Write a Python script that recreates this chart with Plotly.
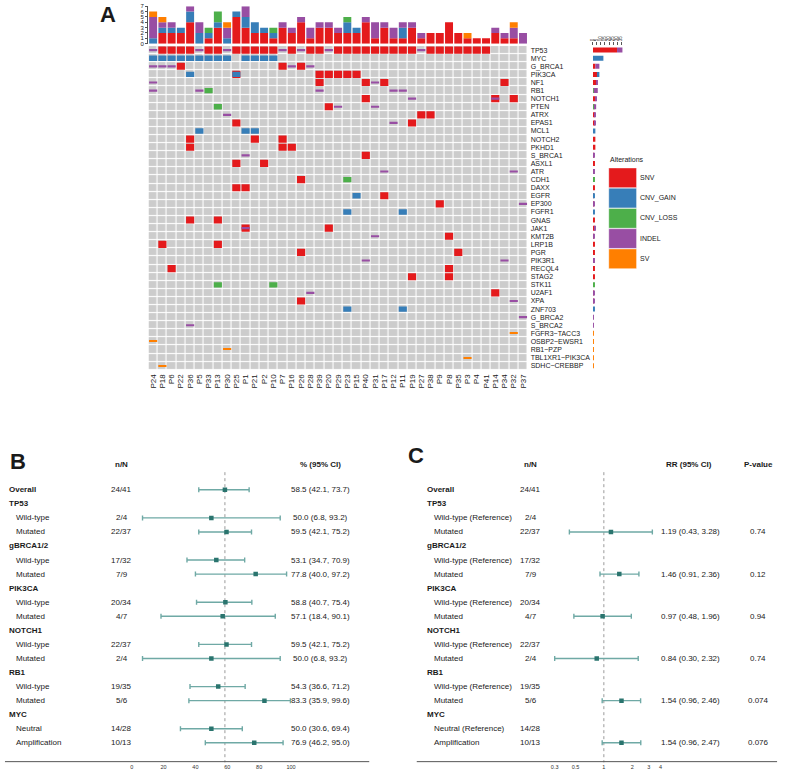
import plotly.graph_objects as go

W, H = 789, 784
def px(x): return x / W
def py(y): return 1 - y / H

FONT = "Liberation Sans"

samples = ["P24","P18","P6","P22","P36","P5","P33","P13","P30","P25","P1","P21","P2","P10","P7",
           "P16","P26","P28","P39","P20","P29","P23","P15","P40","P31","P17","P12","P11","P19","P27",
           "P38","P9","P8","P35","P3","P4","P41","P14","P34","P32","P37"]
genes = ["TP53","MYC","G_BRCA1","PIK3CA","NF1","RB1","NOTCH1","PTEN","ATRX","EPAS1","MCL1","NOTCH2",
         "PKHD1","S_BRCA1","ASXL1","ATR","CDH1","DAXX","EGFR","EP300","FGFR1","GNAS","JAK1","KMT2B",
         "LRP1B","PGR","PIK3R1","RECQL4","STAG2","STK11","U2AF1","XPA","ZNF703","G_BRCA2","S_BRCA2",
         "FGFR3~TACC3","OSBP2~EWSR1","RB1~PZP","TBL1XR1~PIK3CA","SDHC~CREBBP"]
alteration_types = ["SNV", "CNV_GAIN", "CNV_LOSS", "INDEL", "SV"]
alteration_colors = ["#E41A1C", "#377EB8", "#4DAF4A", "#984EA3", "#FF7F00"]

snv_calls = {
    "TP53": ["P18","P6","P22","P36","P33","P13","P25","P1","P21","P2","P10","P16","P28","P39","P29",
             "P23","P15","P40","P31","P17","P12","P11","P19","P38","P9","P8","P35","P3","P4","P41"],
    "G_BRCA1": ["P22","P7","P26"], "PIK3CA": ["P25","P39","P20","P29","P23","P15"],
    "NF1": ["P39","P40","P17","P34"], "NOTCH1": ["P40","P14","P32"], "PTEN": ["P20"],
    "ATRX": ["P27","P38"], "EPAS1": ["P25","P19"], "NOTCH2": ["P36","P21","P7"],
    "PKHD1": ["P36","P7","P16"], "S_BRCA1": ["P40"], "ASXL1": ["P25","P2"], "CDH1": ["P26"],
    "DAXX": ["P25","P1"], "EGFR": ["P17"], "EP300": ["P9"], "GNAS": ["P36","P13"],
    "JAK1": ["P1","P20"], "KMT2B": ["P8"], "LRP1B": ["P18","P13"], "PGR": ["P26","P35"],
    "RECQL4": ["P6","P8"], "STAG2": ["P19","P8"], "U2AF1": ["P14"], "XPA": ["P26"],
}
cnv_gain_calls = {
    "MYC": ["P24","P18","P6","P22","P36","P5","P33","P13","P30","P1","P21","P2","P10"],
    "PIK3CA": ["P36","P25"], "MCL1": ["P5","P1","P21"], "EGFR": ["P15"],
    "FGFR1": ["P23","P11"], "ZNF703": ["P23","P11"],
}
cnv_loss_calls = {"RB1": ["P33"], "PTEN": ["P13"], "CDH1": ["P23"], "STK11": ["P13","P10"]}
indel_calls = {
    "TP53": ["P24","P5","P30","P7","P26","P20","P27"], "G_BRCA1": ["P24","P18","P6","P16","P28"],
    "NF1": ["P24","P31"], "RB1": ["P24","P5","P39","P12","P11"], "NOTCH1": ["P19","P14"],
    "PTEN": ["P29","P31"], "ATRX": ["P30"], "EPAS1": ["P12"], "S_BRCA1": ["P1"],
    "ATR": ["P17","P32"], "EP300": ["P37"], "JAK1": ["P1"], "KMT2B": ["P31"],
    "PIK3R1": ["P40","P34"], "U2AF1": ["P28"], "XPA": ["P32"], "G_BRCA2": ["P37"], "S_BRCA2": ["P36"],
}
sv_calls = {"FGFR3~TACC3": ["P32"], "OSBP2~EWSR1": ["P24"], "RB1~PZP": ["P30"],
            "TBL1XR1~PIK3CA": ["P3"], "SDHC~CREBBP": ["P18"]}
calls_by_type = [snv_calls, cnv_gain_calls, cnv_loss_calls, indel_calls, sv_calls]
cell_heights = [0.88, 0.66, 0.66, 0.27, 0.13]

# forest plot B
fb_labels = ["Overall","TP53","Wild-type","Mutated","gBRCA1/2","Wild-type","Mutated","PIK3CA","Wild-type",
             "Mutated","NOTCH1","Wild-type","Mutated","RB1","Wild-type","Mutated","MYC","Neutral","Amplification"]
fb_header = [1,1,0,0,1,0,0,1,0,0,1,0,0,1,0,0,1,0,0]
fb_nN = ["24/41","","2/4","22/37","","17/32","7/9","","20/34","4/7","","22/37","2/4","","19/35","5/6","","14/28","10/13"]
fb_est = [58.5,None,50.0,59.5,None,53.1,77.8,None,58.8,57.1,None,59.5,50.0,None,54.3,83.3,None,50.0,76.9]
fb_lo = [42.1,None,6.8,42.1,None,34.7,40.0,None,40.7,18.4,None,42.1,6.8,None,36.6,35.9,None,30.6,46.2]
fb_hi = [73.7,None,93.2,75.2,None,70.9,97.2,None,75.4,90.1,None,75.2,93.2,None,71.2,99.6,None,69.4,95.0]
fb_ticks = [0, 20, 40, 60, 80, 100]

# forest plot C
fc_labels = ["Overall","TP53","Wild-type (Reference)","Mutated","gBRCA1/2","Wild-type (Reference)","Mutated",
             "PIK3CA","Wild-type (Reference)","Mutated","NOTCH1","Wild-type (Reference)","Mutated","RB1",
             "Wild-type (Reference)","Mutated","MYC","Neutral (Reference)","Amplification"]
fc_est = [None,None,None,1.19,None,None,1.46,None,None,0.97,None,None,0.84,None,None,1.54,None,None,1.54]
fc_lo = [None,None,None,0.43,None,None,0.91,None,None,0.48,None,None,0.30,None,None,0.96,None,None,0.96]
fc_hi = [None,None,None,3.28,None,None,2.36,None,None,1.96,None,None,2.32,None,None,2.46,None,None,2.47]
fc_p = ["","","","0.74","","","0.12","","","0.94","","","0.74","","","0.074","","","0.076"]
fc_ticks = [0.3, 0.5, 1, 2, 3, 4]

ns, ng = len(samples), len(genes)
sidx = {s: i for i, s in enumerate(samples)}
gidx = {g: i for i, g in enumerate(genes)}

fig = go.Figure()

# ---------- oncoprint background ----------
fig.add_trace(go.Heatmap(z=[[0] * ns for _ in range(ng)], x=list(range(ns)), y=list(range(ng)),
                         colorscale=[[0, "#CCCCCC"], [1, "#CCCCCC"]], showscale=False,
                         xgap=1.1, ygap=1.1, hoverinfo="skip", xaxis="x", yaxis="y"))

altered = [[False] * ns for _ in range(ng)]
col_counts = [[0] * ns for _ in alteration_types]
row_counts = [[0] * ng for _ in alteration_types]
for t, (calls, h, col) in enumerate(zip(calls_by_type, cell_heights, alteration_colors)):
    xs, ys = [], []
    for g, ss in calls.items():
        for s in ss:
            xs.append(sidx[s]); ys.append(gidx[g])
            altered[gidx[g]][sidx[s]] = True
            col_counts[t][sidx[s]] += 1
            row_counts[t][gidx[g]] += 1
    fig.add_trace(go.Bar(x=xs, y=[h] * len(xs), base=[r - h / 2 for r in ys], width=0.88,
                         marker=dict(color=col, line=dict(width=0)), xaxis="x", yaxis="y",
                         showlegend=False, hoverinfo="skip"))

pct = [f"{100 * sum(altered[r]) / ns:.1f}%" for r in range(ng)]

# ---------- top bars ----------
cum = [0] * ns
for t, col in enumerate(alteration_colors):
    fig.add_trace(go.Bar(x=list(range(ns)), y=col_counts[t], base=cum[:], width=0.86,
                         marker=dict(color=col, line=dict(width=0)), xaxis="x2", yaxis="y2",
                         showlegend=False, hoverinfo="skip"))
    cum = [a + b for a, b in zip(cum, col_counts[t])]

# ---------- right bars ----------
cum = [0] * ng
for t, col in enumerate(alteration_colors):
    fig.add_trace(go.Bar(y=list(range(ng)), x=row_counts[t], base=cum[:], width=0.62, orientation="h",
                         marker=dict(color=col, line=dict(width=0)), xaxis="x3", yaxis="y3",
                         showlegend=False, hoverinfo="skip"))
    cum = [a + b for a, b in zip(cum, row_counts[t])]

# ---------- forest B ----------
TEAL_LINE = "#6fa9a5"
TEAL_PT = "#2a746e"
rows_b = [i for i, e in enumerate(fb_est) if e is not None]
fig.add_trace(go.Scatter(x=[fb_est[0], fb_est[0]], y=[-1.25, 19.4], mode="lines",
                         line=dict(color="#9a9a9a", width=1, dash="dot"), xaxis="x5", yaxis="y5",
                         showlegend=False, hoverinfo="skip"))
fig.add_trace(go.Scatter(x=[fb_est[i] for i in rows_b], y=rows_b, mode="markers",
                         marker=dict(symbol="square", size=4.5, color=TEAL_PT),
                         error_x=dict(type="data", symmetric=False,
                                      array=[fb_hi[i] - fb_est[i] for i in rows_b],
                                      arrayminus=[fb_est[i] - fb_lo[i] for i in rows_b],
                                      color=TEAL_LINE, thickness=1.4, width=2.5),
                         xaxis="x5", yaxis="y5", showlegend=False, hoverinfo="skip"))

# ---------- forest C ----------
rows_c = [i for i, e in enumerate(fc_est) if e is not None]
fig.add_trace(go.Scatter(x=[1, 1], y=[-1.25, 19.4], mode="lines",
                         line=dict(color="#9a9a9a", width=1, dash="dot"), xaxis="x6", yaxis="y6",
                         showlegend=False, hoverinfo="skip"))
fig.add_trace(go.Scatter(x=[fc_est[i] for i in rows_c], y=rows_c, mode="markers",
                         marker=dict(symbol="square", size=4.5, color=TEAL_PT),
                         error_x=dict(type="data", symmetric=False,
                                      array=[fc_hi[i] - fc_est[i] for i in rows_c],
                                      arrayminus=[fc_est[i] - fc_lo[i] for i in rows_c],
                                      color=TEAL_LINE, thickness=1.4, width=2.5),
                         xaxis="x6", yaxis="y6", showlegend=False, hoverinfo="skip"))

ann = []
def text(x, y, s, size=8, bold=False, anchor="left", yref="paper", color="#1a1a1a"):
    ann.append(dict(x=x, y=y, xref="paper", yref=yref, text=f"<b>{s}</b>" if bold else s,
                    showarrow=False, xanchor=anchor, yanchor="middle",
                    font=dict(family=FONT, size=size, color=color)))

# panel letters
text(px(96), py(12), "A", 22, True)
text(px(5), py(462), "B", 22, True)
text(px(407), py(456), "C", 22, True)

FS = 8
HDR = -1.83
text(px(120), HDR, "n/N", FS, True, "center", "y5")
text(px(321), HDR, "% (95% CI)", FS, True, "center", "y5")
for i, lab in enumerate(fb_labels):
    text(px(4 if fb_header[i] else 11), i, lab, FS, bool(fb_header[i]), "left", "y5")
    if fb_nN[i]:
        text(px(120), i, fb_nN[i], FS, False, "center", "y5")
    if fb_est[i] is not None:
        text(px(321), i, f"{fb_est[i]:.1f} ({fb_lo[i]:.1f}, {fb_hi[i]:.1f})", FS, False, "center", "y5")

text(px(533), HDR, "n/N", FS, True, "center", "y6")
text(px(693), HDR, "RR (95% CI)", FS, True, "center", "y6")
text(px(763), HDR, "P-value", FS, True, "center", "y6")
for i, lab in enumerate(fc_labels):
    text(px(426 if fb_header[i] else 433), i, lab, FS, bool(fb_header[i]), "left", "y6")
    if fb_nN[i]:
        text(px(533), i, fb_nN[i], FS, False, "center", "y6")
    if fc_est[i] is not None:
        text(px(695), i, f"{fc_est[i]:.2f} ({fc_lo[i]:.2f}, {fc_hi[i]:.2f})", FS, False, "center", "y6")
        text(px(763), i, fc_p[i], FS, False, "center", "y6")

# legend
shapes = []
LX0, LX1, LY0, LSTEP = 612, 640, 166, 20.4
text(px(LX0 - 1), py(LY0 - 8), "Alterations", 7)
for k, (name, col) in enumerate(zip(alteration_types, alteration_colors)):
    y0 = LY0 + LSTEP * k
    shapes.append(dict(type="rect", xref="paper", yref="paper", x0=px(LX0), x1=px(LX1),
                       y0=py(y0 + 0.3), y1=py(y0 + LSTEP - 0.3), fillcolor=col,
                       line=dict(color="rgba(255,255,255,0.6)", width=0.6)))
    text(px(LX1 + 2), py(y0 + LSTEP / 2), name, 7)

FB_TOP, FB_BOT = 457.5, 765.5
shapes.append(dict(type="line", xref="paper", yref="paper", x0=px(2), x1=px(370), y0=py(FB_BOT - 1), y1=py(FB_BOT - 1),
                   line=dict(color="#555555", width=1)))
shapes.append(dict(type="line", xref="paper", yref="paper", x0=px(418), x1=px(782), y0=py(FB_BOT - 1), y1=py(FB_BOT - 1),
                   line=dict(color="#555555", width=1)))

GX0, GX1, GY0, GY1 = 147, 530, 43.4, 369.6
hidden = dict(visible=False, showgrid=False, zeroline=False)
tick_font = dict(family=FONT, size=7, color="#1a1a1a")

# log axis for C: value 1 at x=607, 95 px per decade
C_LO, C_HI, C_ONE, C_PPD = -0.651, 0.858, 607, 95
c_x0 = C_ONE + C_LO * C_PPD
c_x1 = C_ONE + C_HI * C_PPD

fig.update_layout(
    width=W, height=H, margin=dict(l=0, r=0, t=0, b=0), autosize=False,
    paper_bgcolor="white", plot_bgcolor="white", barmode="overlay", showlegend=False,
    font=dict(family=FONT),
    annotations=ann, shapes=shapes,
    xaxis=dict(domain=[px(GX0), px(GX1)], range=[-0.5, ns - 0.5], anchor="y", tickvals=list(range(ns)),
               ticktext=samples, tickangle=-90, tickfont=dict(family=FONT, size=8, color="#1a1a1a"),
               showgrid=False, zeroline=False, showline=False, ticks="", ticklabelstandoff=2),
    yaxis=dict(domain=[py(GY1), py(GY0)], range=[ng - 0.5, -0.5], anchor="x", side="right",
               tickvals=list(range(ng)), ticktext=genes, tickfont=tick_font, showgrid=False,
               zeroline=False, ticks="", ticklabelstandoff=2),
    yaxis4=dict(overlaying="y", matches="y", side="left", anchor="x", tickvals=list(range(ng)),
                ticktext=pct, tickfont=tick_font, showgrid=False, zeroline=False, ticks="",
                ticklabelstandoff=4),
    xaxis2=dict(domain=[px(GX0), px(GX1)], range=[-0.5, ns - 0.5], anchor="y2", **hidden),
    yaxis2=dict(domain=[py(41), py(3.3)], range=[0, 7], anchor="free", position=px(145.5),
                tickvals=list(range(8)), ticks="outside", ticklen=2, tickwidth=0.8, tickcolor="#555",
                showline=True, linecolor="#555", linewidth=0.8, showgrid=False, zeroline=False,
                tickfont=dict(family=FONT, size=6, color="#1a1a1a")),
    xaxis3=dict(domain=[px(596), px(626)], range=[0, 37], anchor="y3", side="top",
                tickvals=[0, 5, 10, 15, 20, 25, 30, 35], ticks="outside", ticklen=3, tickwidth=0.6,
                tickcolor="#555", tickangle=-90, showgrid=False, zeroline=False, showline=False,
                tickfont=dict(family=FONT, size=4.5, color="#1a1a1a")),
    yaxis3=dict(domain=[py(GY1), py(GY0)], range=[ng - 0.5, -0.5], anchor="x3", **hidden),
    xaxis5=dict(domain=[px(130), px(291)], range=[0, 100], anchor="y5", tickvals=fb_ticks,
                showgrid=False, zeroline=False, showline=False, ticks="",
                tickfont=dict(family=FONT, size=5.5, color="#333")),
    yaxis5=dict(domain=[py(FB_BOT), py(FB_TOP)], range=[19.41, -2.33], anchor="x5", **hidden),
    xaxis6=dict(domain=[px(c_x0), px(c_x1)], type="log", range=[C_LO, C_HI], anchor="y6",
                tickvals=fc_ticks, ticktext=[str(t) for t in fc_ticks], showgrid=False,
                zeroline=False, showline=False, ticks="",
                tickfont=dict(family=FONT, size=5.5, color="#333")),
    yaxis6=dict(domain=[py(FB_BOT), py(FB_TOP)], range=[19.41, -2.33], anchor="x6", **hidden),
)

fig.write_html("out.html", config={"displayModeBar": False},
               post_script="document.body.style.margin='0';document.body.style.overflow='hidden';")
